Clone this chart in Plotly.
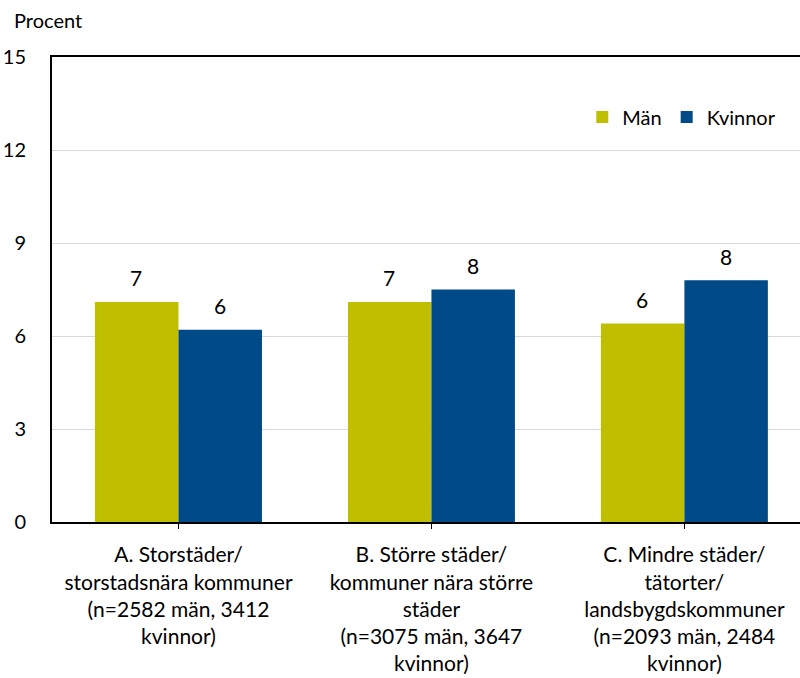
import plotly.graph_objects as go

categories = [
    "A. Storstäder/<br>storstadsnära kommuner<br>(n=2582 män, 3412<br>kvinnor)",
    "B. Större städer/<br>kommuner nära större<br>städer<br>(n=3075 män, 3647<br>kvinnor)",
    "C. Mindre städer/<br>tätorter/<br>landsbygdskommuner<br>(n=2093 män, 2484<br>kvinnor)",
]
man_values = [7.1, 7.1, 6.4]
kvinnor_values = [6.2, 7.5, 7.8]
y_ticks = [0, 3, 6, 9, 12, 15]

FONT = "Lato"
MAN_COLOR = "#BFBF00"
KV_COLOR = "#004A87"

fig = go.Figure()
fig.add_trace(go.Bar(name="Män", x=categories, y=man_values, marker_color=MAN_COLOR,
                     marker_line_width=0))
fig.add_trace(go.Bar(name="Kvinnor", x=categories, y=kvinnor_values, marker_color=KV_COLOR,
                     marker_line_width=0))

for vals, shift in ((man_values, -42), (kvinnor_values, 42)):
    for c, v in zip(categories, vals):
        fig.add_annotation(x=c, y=v, text=str(round(v)), showarrow=False,
                           xshift=shift, yshift=24, yanchor="middle",
                           font=dict(family=FONT, size=21, color="black"))

fig.add_annotation(x=0, xref="paper", xanchor="left", xshift=-40,
                   y=1, yref="paper", yshift=37, yanchor="middle",
                   text="Procent", showarrow=False,
                   font=dict(family=FONT, size=20, color="black"))

fig.update_layout(
    width=800, height=678,
    margin=dict(l=52, r=0, t=57, b=156),
    barmode="group", bargap=0.34, bargroupgap=0,
    plot_bgcolor="white", paper_bgcolor="white",
    font=dict(family=FONT, size=21, color="black"),
    legend=dict(orientation="h", x=0.975, xanchor="right", y=0.871, yanchor="middle",
                font=dict(family=FONT, size=20), bgcolor="rgba(0,0,0,0)",
                itemwidth=30, tracegroupgap=0),
    showlegend=True,
)
fig.update_xaxes(range=[-0.5, 2.457], showline=True, linecolor="black", linewidth=2,
                 mirror=True, ticks="outside", ticklen=5, tickcolor="black",
                 ticklabelstandoff=8,
                 showgrid=False, tickfont=dict(family=FONT, size=21))
fig.update_yaxes(range=[0, 15], tickvals=y_ticks, showline=True, linecolor="black",
                 linewidth=2, showgrid=True, gridcolor="#D9D9D9", gridwidth=1,
                 ticks="", ticklabelstandoff=20, zeroline=False,
                 tickfont=dict(family=FONT, size=20))

fig.write_html("out.html", post_script="document.body.style.margin='0';",
               config={"displayModeBar": False})
